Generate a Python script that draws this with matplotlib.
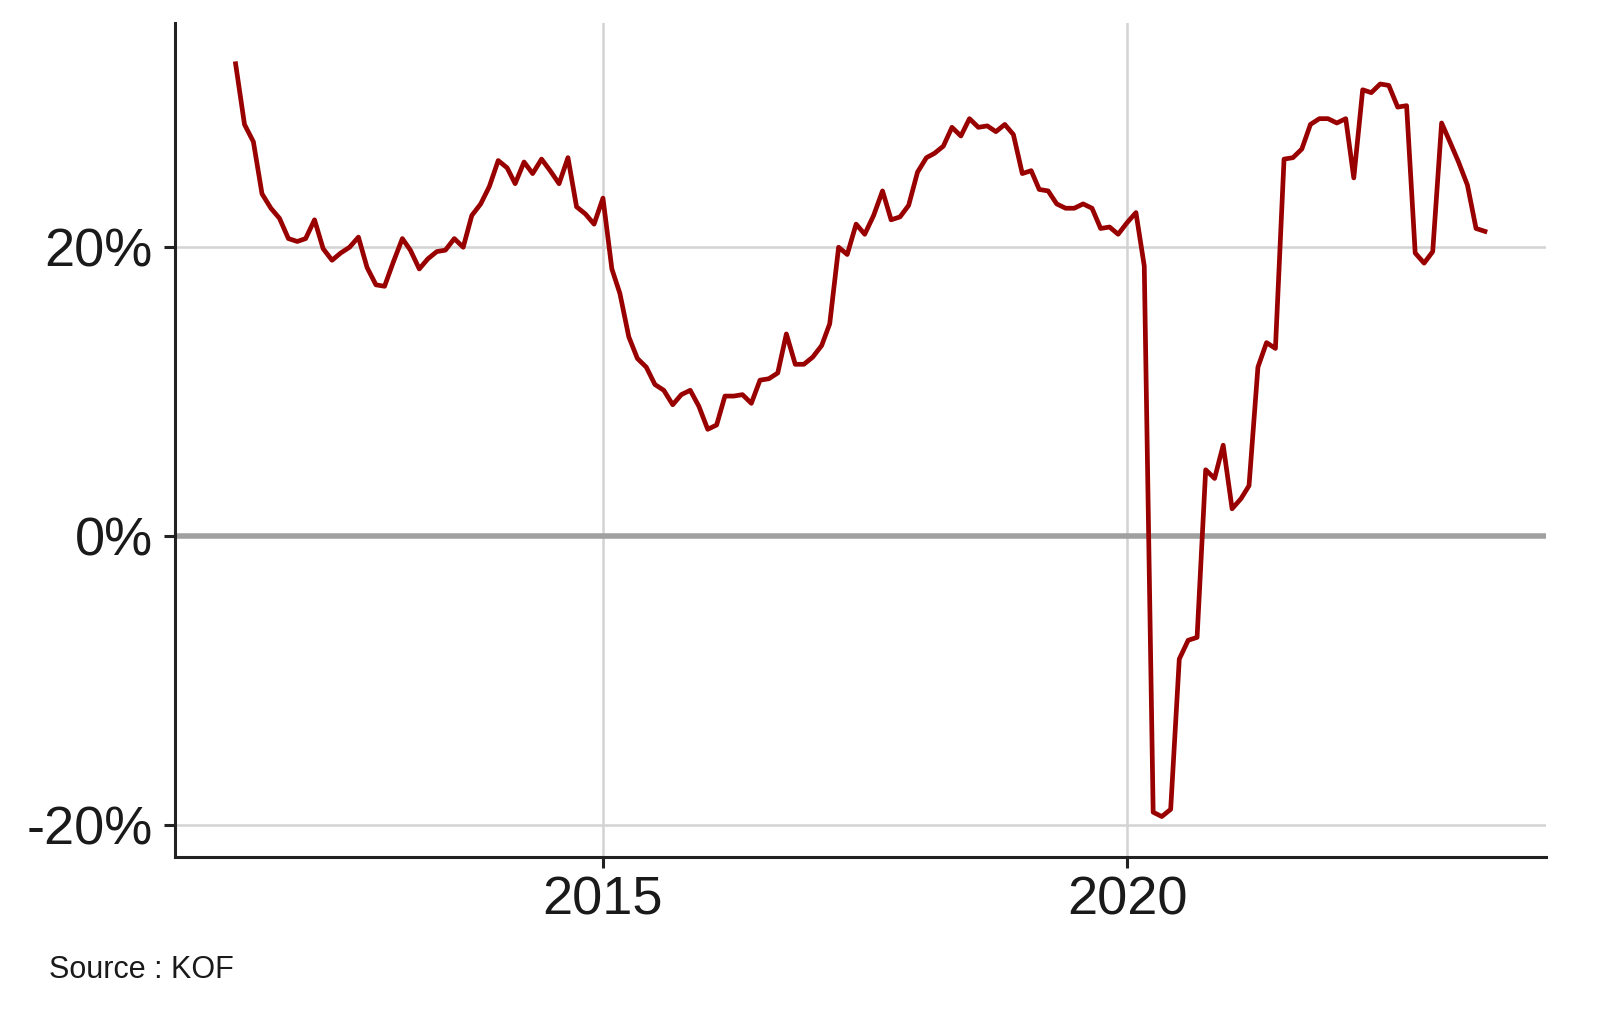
import pandas as pd
import matplotlib
matplotlib.use("Agg")
import matplotlib.pyplot as plt

plt.rcParams['font.family'] = ['Liberation Sans', 'DejaVu Sans']

# monthly values, Jul 2011 - Jun 2023
start_month = "2011-07-01"
values = [
    32.7, 28.5, 27.3, 23.7, 22.7, 22.0,
    20.6, 20.4, 20.6, 21.9, 19.9, 19.1, 19.6, 20.0, 20.7, 18.6, 17.4, 17.3,
    19.0, 20.6, 19.8, 18.5, 19.2, 19.7, 19.8, 20.6, 20.0, 22.2, 23.0, 24.2,
    26.0, 25.5, 24.4, 25.9, 25.1, 26.1, 25.3, 24.4, 26.2, 22.8, 22.3, 21.6,
    23.4, 18.5, 16.8, 13.8, 12.3, 11.7, 10.5, 10.1, 9.1, 9.8, 10.1, 9.0,
    7.4, 7.7, 9.7, 9.7, 9.8, 9.2, 10.8, 10.9, 11.3, 14.0, 11.9, 11.9,
    12.4, 13.2, 14.7, 20.0, 19.5, 21.6, 20.9, 22.2, 23.9, 21.9, 22.1, 22.9,
    25.2, 26.2, 26.5, 27.0, 28.3, 27.7, 28.9, 28.3, 28.4, 28.0, 28.5, 27.8,
    25.1, 25.3, 24.0, 23.9, 23.0, 22.7, 22.7, 23.0, 22.7, 21.3, 21.4, 20.9,
    21.7, 22.4, 18.7, -19.1, -19.4, -18.9, -8.5, -7.2, -7.0, 4.6, 4.0, 6.3,
    1.9, 2.6, 3.5, 11.7, 13.4, 13.0, 26.1, 26.2, 26.8, 28.5, 28.9, 28.9,
    28.6, 28.9, 24.8, 30.9, 30.7, 31.3, 31.2, 29.7, 29.8, 19.6, 18.9, 19.7,
    28.6, 27.2, 25.9, 24.3, 21.3, 21.1,
]
dates = pd.date_range(start_month, periods=len(values), freq="MS")

x_ticks = ["2015-01-01", "2020-01-01"]
x_labels = ["2015", "2020"]
y_ticks = [-20, 0, 20]
y_labels = ["-20%", "0%", "20%"]

fig = plt.figure(figsize=(16, 10.13), dpi=100)
ax = fig.add_axes([0.1094, 0.154, 0.8569, 0.823])

ax.grid(True, color="#d3d3d3", linewidth=1.8, zorder=0)
ax.axhline(0, color="#a0a0a0", linewidth=4.0, zorder=2)
ax.plot(dates, values, color="#990000", linewidth=3.4, zorder=3)

t0 = pd.Timestamp("2015-01-01")
ax.set_xlim(t0 - pd.Timedelta(days=1491), t0 + pd.Timedelta(days=3286))
ax.set_ylim(-22.2, 35.5)

ax.set_xticks(pd.to_datetime(x_ticks))
ax.set_xticklabels(x_labels)
ax.set_yticks(y_ticks)
ax.set_yticklabels(y_labels)

for side in ["top", "right"]:
    ax.spines[side].set_visible(False)
for side in ["left", "bottom"]:
    ax.spines[side].set_linewidth(2.2)
    ax.spines[side].set_color("#222222")

ax.tick_params(axis="both", labelsize=39, colors="#222222", labelcolor="#1a1a1a",
               length=8, width=2.2)
ax.tick_params(axis="y", pad=8)
ax.tick_params(axis="x", pad=5)

fig.text(49 / 1600, 0.035, "Source : KOF", fontsize=22, color="#1a1a1a", ha="left", va="baseline")

fig.savefig("out.png", dpi=100)
